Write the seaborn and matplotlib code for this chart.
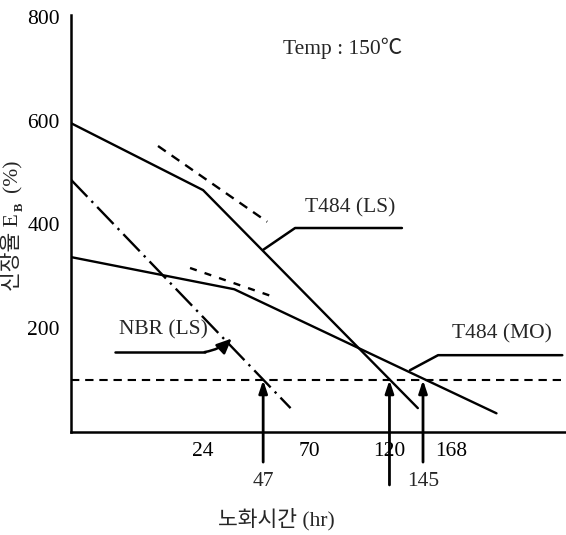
import numpy as np
import matplotlib
matplotlib.use("Agg")
import matplotlib.pyplot as plt
import seaborn as sns

# --- data (aging time in hours, elongation E_B in %) ---
t484_ls_hr = [0, 24, 141]
t484_ls_eb = [595, 466, 46]
t484_ls_tan_hr = [11.7, 48.8]
t484_ls_tan_eb = [551, 405]

t484_mo_hr = [0, 35, 208]
t484_mo_eb = [337, 275, 36]
t484_mo_tan_hr = [20, 52]
t484_mo_tan_eb = [316, 260]

nbr_ls_hr = [0, 60]
nbr_ls_eb = [486, 46]

limit_eb = 100                 # 100 % elongation criterion
life_hr = [47, 120, 145]       # NBR(LS), T484(LS), T484(MO)
xtick_hr = [24, 70, 120, 168]
ytick_all = [100, 200, 300, 400, 500, 600, 700, 800]
ytick_labels = ["", "200", "", "400", "", "600", "", "800"]

SHIFT = 0.45  # x axis of the original is roughly square-root spaced
FS = 15.5
W, H = 566, 535


def fwd(t):
    return np.sqrt(np.clip(np.asarray(t, dtype=float) + SHIFT, 0, None))


def inv(u):
    return np.asarray(u, dtype=float) ** 2 - SHIFT


sns.set_style("white")
plt.rcParams["font.family"] = ["Liberation Serif", "Noto Sans CJK KR"]
plt.rcParams["axes.unicode_minus"] = False

fig = plt.figure(figsize=(W / 100, H / 100), dpi=100)
ax = fig.add_axes([71 / W, 103 / H, 495 / W, 416.8 / H])
ax.set_xscale("function", functions=(fwd, inv))
ax.set_xlim(0, 278)
ax.set_ylim(0, 803)

lw = 1.7
kw = dict(color="black", sort=False, estimator=None, legend=False, ax=ax)
sns.lineplot(x=t484_ls_hr, y=t484_ls_eb, lw=lw, **kw)
sns.lineplot(x=t484_mo_hr, y=t484_mo_eb, lw=lw, **kw)
sns.lineplot(x=nbr_ls_hr, y=nbr_ls_eb, lw=lw, linestyle=(0, (10, 2.5, 1, 2.5)), **kw)
sns.lineplot(x=t484_ls_tan_hr, y=t484_ls_tan_eb, lw=lw, linestyle=(0, (4, 3)), **kw)
sns.lineplot(x=t484_mo_tan_hr, y=t484_mo_tan_eb, lw=lw, linestyle=(0, (3, 3.5)), **kw)
ax.axhline(limit_eb, color="black", lw=1.5, linestyle=(0, (4, 2.8)))

# arrows marking the time to reach the 100 % criterion
for t in life_hr:
    start = -102 if t == 120 else -58
    ax.annotate("", xy=(t, limit_eb), xytext=(t, start), annotation_clip=False,
                zorder=2,
                arrowprops=dict(arrowstyle="-|>,head_length=0.75,head_width=0.25",
                                lw=2, color="black", shrinkA=0, shrinkB=0))
for t in [47, 145]:
    ax.text(t, -96, str(t), ha="center", va="center", fontsize=FS, clip_on=False)

# leader lines and series labels
ax.plot([47, 62.3, 129], [351, 393, 393], color="black", lw=1.8, clip_on=False)
ax.text(94, 431, "T484 (LS)", ha="center", va="center", fontsize=FS)
ax.plot([135, 157, 274], [119, 148, 148], color="black", lw=1.8, clip_on=False)
ax.text(213, 189, "T484 (MO)", ha="center", va="center", fontsize=FS)
ax.plot([4.0, 24.5], [154, 154], color="black", lw=1.8)
ax.annotate("", xy=(34, 180), xytext=(24.5, 154),
            arrowprops=dict(arrowstyle="-|>,head_length=0.9,head_width=0.4",
                            lw=1.8, color="black", shrinkA=0, shrinkB=0,
                            connectionstyle="arc3,rad=0.15"))
ax.text(12.9, 196, "NBR (LS)", ha="center", va="center", fontsize=FS)
ax.text((343 - 71) / 495, (432 - 48) / 416.8, "Temp : 150℃", transform=ax.transAxes,
        ha="center", va="center", fontsize=FS)

# axes styling
sns.despine(ax=ax, top=True, right=True)
for side in ["left", "bottom"]:
    ax.spines[side].set_linewidth(1.8)
    ax.spines[side].set_color("black")
ax.set_xticks(xtick_hr)
ax.set_xticklabels([str(v) for v in xtick_hr])
ax.set_yticks(ytick_all)
ax.set_yticklabels(ytick_labels)
ax.tick_params(axis="x", direction="in", length=5, width=1.6, pad=7, labelsize=FS,
               colors="black")
ax.tick_params(axis="y", direction="in", length=7, width=1.6, pad=8, labelsize=FS,
               colors="black")
for lab in ax.get_xticklabels():
    if lab.get_text() == "120":
        lab.set_bbox(dict(facecolor="white", edgecolor="none", pad=1))
ax.minorticks_off()

ax.set_xlabel("노화시간 (hr)", fontsize=FS)
ax.xaxis.set_label_coords((276 - 71) / 495, (432 - 519) / 416.8)
ax.xaxis.label.set_va("center")

# y label: 신장율 E_B (%) built from pieces so the Korean glyphs keep their font
fig.text(13 / W, 1 - 252 / H, "신장율 E", rotation=90, ha="center", va="center",
         fontsize=FS)
fig.text(20 / W, 1 - 207 / H, "B", rotation=90, ha="center", va="center",
         fontsize=9, fontweight="bold")
fig.text(13 / W, 1 - 176 / H, "(%)", rotation=90, ha="center", va="center",
         fontsize=FS)

fig.savefig("out.png", dpi=100)
